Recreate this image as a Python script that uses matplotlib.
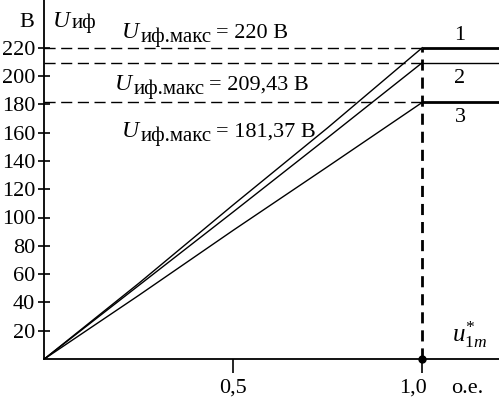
import numpy as np
import matplotlib
matplotlib.use("Agg")
import matplotlib.pyplot as plt
from matplotlib.transforms import IdentityTransform

plt.rcParams['font.family'] = ['Liberation Serif', 'DejaVu Serif']
plt.rcParams['mathtext.fontset'] = 'custom'
plt.rcParams['mathtext.rm'] = 'Liberation Serif'
plt.rcParams['mathtext.it'] = 'Liberation Serif:italic'

# u*_1m, o.e.
u1m = [0.0, 0.25, 0.5, 0.75, 1.0]
# U_if for three cases, V
u_if_1 = [0.0, 53.5, 109.0, 163.5, 220.0]
u_if_2 = [0.0, 52.0, 104.0, 156.5, 209.43]
u_if_3 = [0.0, 45.0, 91.0, 136.0, 181.37]
u_max = [220.0, 209.43, 181.37]
max_labels = ["= 220 В", "= 209,43 В", "= 181,37 В"]
curve_names = ["1", "2", "3"]
yticks = [20, 40, 60, 80, 100, 120, 140, 160, 180, 200, 220]
xticks = [0.5, 1.0]
xtick_labels = ["0,5", "1,0"]

W, H = 499, 397
fig = plt.figure(figsize=(W / 100, H / 100), dpi=100)
ax = fig.add_axes([44.3 / W, (H - 359) / H, (W - 44.3) / W, 359 / H])
ax.set_xlim(0, (W - 44.3) / 378)
ax.set_ylim(0, 359 / 1.415)

for ys in (u_if_1, u_if_2, u_if_3):
    ax.plot(u1m, ys, color='black', lw=1.0)

for v in u_max:
    ax.plot([0, 1.0], [v, v], color='black', lw=1.0, dashes=(8, 4))
    ax.plot([1.0, 1.3], [v, v], color='black', lw=2.0 if v != 209.43 else 1.0,
            clip_on=False, solid_capstyle='butt')
ax.plot([1.0, 1.0], [0, u_max[0]], color='black', lw=2.0, dashes=(4, 2.5))
ax.plot([1.0], [0], 'o', color='black', ms=5, clip_on=False, zorder=5)

for s in ('top', 'right'):
    ax.spines[s].set_visible(False)
ax.spines['left'].set_linewidth(1.3)
ax.spines['bottom'].set_linewidth(1.3)

fs = 16
ax.set_yticks(yticks)
ax.set_yticklabels([str(t) for t in yticks], fontsize=fs)
ax.tick_params(axis='y', direction='inout', length=9, width=1.2, pad=2)
ax.set_xticks(xticks)
ax.set_xticklabels([])
ax.tick_params(axis='x', direction='out', length=10, width=1.2)

fig.canvas.draw()
renderer = fig.canvas.get_renderer()


def rich(x, y, parts):
    # parts: (text, style, size, dy down, gap after) placed one after another
    for txt, style, size, dy, gap in parts:
        t = fig.text(x, H - y - dy, txt, fontsize=size, style=style,
                     ha='left', va='baseline', transform=IdentityTransform())
        bb = t.get_window_extent(renderer)
        x = bb.x1 + gap


def at(x, y, txt, size=fs, style='normal', ha='center'):
    fig.text(x, H - y, txt, fontsize=size, style=style, ha=ha, va='baseline',
             transform=IdentityTransform())


at(27, 27, "В", ha='center')
rich(53, 27, [("U", 'italic', 17, 0, 2), ("иф", 'normal', 15, 1, 0)])

label_pos = [(122, 38), (115, 90), (122, 137)]
for (px, py), lab in zip(label_pos, max_labels):
    rich(px, py, [("U", 'italic', 17, 0, 2), ("иф.макс", 'normal', 15, 4, 4),
                  (lab, 'normal', fs, 0, 0)])

name_pos = [40, 83, 122]
for py, name in zip(name_pos, curve_names):
    at(460, py, name)

# x tick labels
tick_px = [44.3 + 378 * v for v in xticks]
tick_px[1] -= 9
for px, lab in zip(tick_px, xtick_labels):
    at(px, 393, lab)
at(467, 393, "о.е.")

at(452, 342, r'$u_{\mathrm{1}m}^{*}$', size=18, ha='left')

fig.savefig("out.png", dpi=100)
